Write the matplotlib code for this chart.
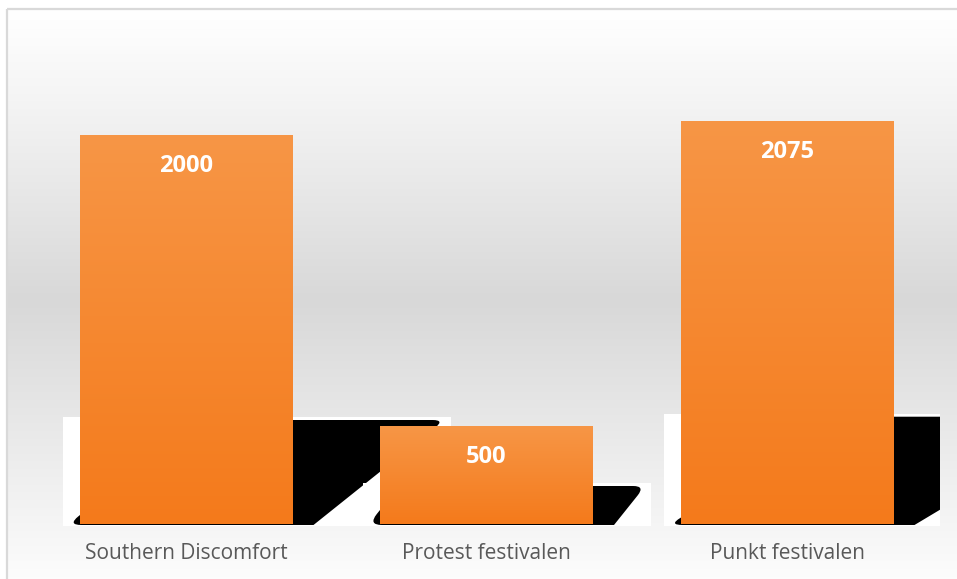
import numpy as np
import matplotlib
matplotlib.use('Agg')
import matplotlib.pyplot as plt
from matplotlib.patches import Rectangle, PathPatch
from matplotlib.path import Path
from matplotlib.transforms import IdentityTransform
from matplotlib.colors import LinearSegmentedColormap

# ---- data ----
categories = ['Southern Discomfort', 'Protest festivalen', 'Punkt festivalen']
values = [2000, 500, 2075]

# ---- style ----
W, H = 957, 579
BAR_TOP = '#F79646'
BAR_BOTTOM = '#F47A1B'
LABEL_GRAY = '#595959'
shadow_skew = [1.25, 0.80, 1.67]   # perspective-shadow slant per bar

fig = plt.figure(figsize=(W / 100, H / 100), dpi=100)
fig.patch.set_facecolor('white')

# background gradient (white -> gray -> white) with chart-area border
bg = fig.add_axes([0, 0, 1, 1], zorder=-10)
ys = np.linspace(9, H, 1200)
mid, bot = 295, 590
g = 0xd8 / 255
shade = np.where(ys < mid, 1 - ((ys - 9) / (mid - 9)) ** 1.1 * (1 - g),
                 g + (ys - mid) / (bot - mid) * (1 - g))
shade = np.clip(shade, 0, 1)
img = np.dstack([np.repeat(shade[:, None], 4, axis=1)] * 3)
bg.imshow(img, extent=[7, W + 20, H + 10, 9], aspect='auto', interpolation='nearest')
bg.plot([7, 7], [H + 5, 9], color='#d9d9d9', lw=1.6, solid_capstyle='butt')
bg.plot([7, W + 20], [9, 9], color='#d9d9d9', lw=1.6, solid_capstyle='butt')
bg.set_xlim(0, W)
bg.set_ylim(H, 0)
bg.axis('off')
for s in bg.spines.values():
    s.set_visible(False)

# main axes
ax_left, ax_right, ax_top, ax_bot = 35.75, 937.25, 38.0, 523.5
ax = fig.add_axes([ax_left / W, (H - ax_bot) / H, (ax_right - ax_left) / W,
                   (ax_bot - ax_top) / H])
ax.patch.set_alpha(0)
for s in ax.spines.values():
    s.set_visible(False)

x = np.arange(len(categories))
bar_w = 213 / 300.5
bars = ax.bar(x, values, width=bar_w, color=BAR_TOP, zorder=10)
ax.set_xlim(-0.5, len(categories) - 0.5)
ax.set_ylim(0, 2500)
ax.set_yticks([])
ax.set_xticks(x, categories, fontsize=15, color=LABEL_GRAY, family='Open Sans')
ax.tick_params(axis='x', length=0, pad=14)

# gradient fill on bars
cmap = LinearSegmentedColormap.from_list('barg', [BAR_BOTTOM, BAR_TOP])
grad = np.linspace(0, 1, 256)[:, None]
for b, xi, v in zip(bars, x, values):
    im = ax.imshow(grad, extent=[xi - bar_w / 2, xi + bar_w / 2, 0, v], origin='lower',
                   cmap=cmap, aspect='auto', zorder=11, interpolation='bicubic')
    im.set_clip_path(b)
ax.set_xlim(-0.5, len(categories) - 0.5)
ax.set_ylim(0, 2500)


def rounded_path(pts, radii):
    verts, codes = [], []
    n = len(pts)
    for j in range(n):
        p = np.array(pts[j], float)
        prev = np.array(pts[j - 1], float)
        nxt = np.array(pts[(j + 1) % n], float)
        r = radii[j]
        if r > 0:
            a = p + (prev - p) / np.linalg.norm(prev - p) * r
            c = p + (nxt - p) / np.linalg.norm(nxt - p) * r
            verts += [a, p, c]
            codes += [Path.LINETO, Path.CURVE3, Path.CURVE3]
        else:
            verts.append(p)
            codes.append(Path.LINETO)
    codes[0] = Path.MOVETO
    verts.append(verts[0])
    codes.append(Path.CLOSEPOLY)
    return Path(verts, codes)


# perspective shadows (built in display pixels from each bar's geometry)
ident = IdentityTransform()
axR_disp = ax.transData.transform((len(categories) - 0.5, 0))[0]
for i, (xi, v) in enumerate(zip(x, values)):
    (L, yb0) = ax.transData.transform((xi - bar_w / 2, 0))
    (R, _) = ax.transData.transform((xi + bar_w / 2, 0))
    yb = yb0 - 1.5
    hs = 17 + 0.044 * v
    k = shadow_skew[i]
    P0 = (L - 12, yb)
    P1 = (R + 21, yb)
    P2 = (R + 21 + k * hs, yb + hs)
    P3 = (L - 12 + k * hs, yb + hs)
    wr_right = min(P2[0] + 6, axR_disp + 3)
    white = Rectangle((L - 17, yb - 0.7), wr_right - (L - 17), hs + 3.7,
                      transform=ident, facecolor='white', edgecolor='none',
                      zorder=2 + 2 * i, clip_on=False)
    ax.add_patch(white)
    blk = PathPatch(rounded_path([P0, P1, P2, P3], [14, 0, 12, 0]), transform=ident,
                    facecolor='black', edgecolor='none', zorder=3 + 2 * i)
    ax.add_patch(blk)
    blk.set_clip_path(white)

# value labels
for xi, v in zip(x, values):
    ax.annotate(f'{v}', xy=(xi, v), xytext=(0, -31), textcoords='offset pixels',
                ha='center', va='center', color='white', fontsize=17,
                fontweight='bold', family='Open Sans', zorder=20)

fig.savefig('out.png', dpi=100)
